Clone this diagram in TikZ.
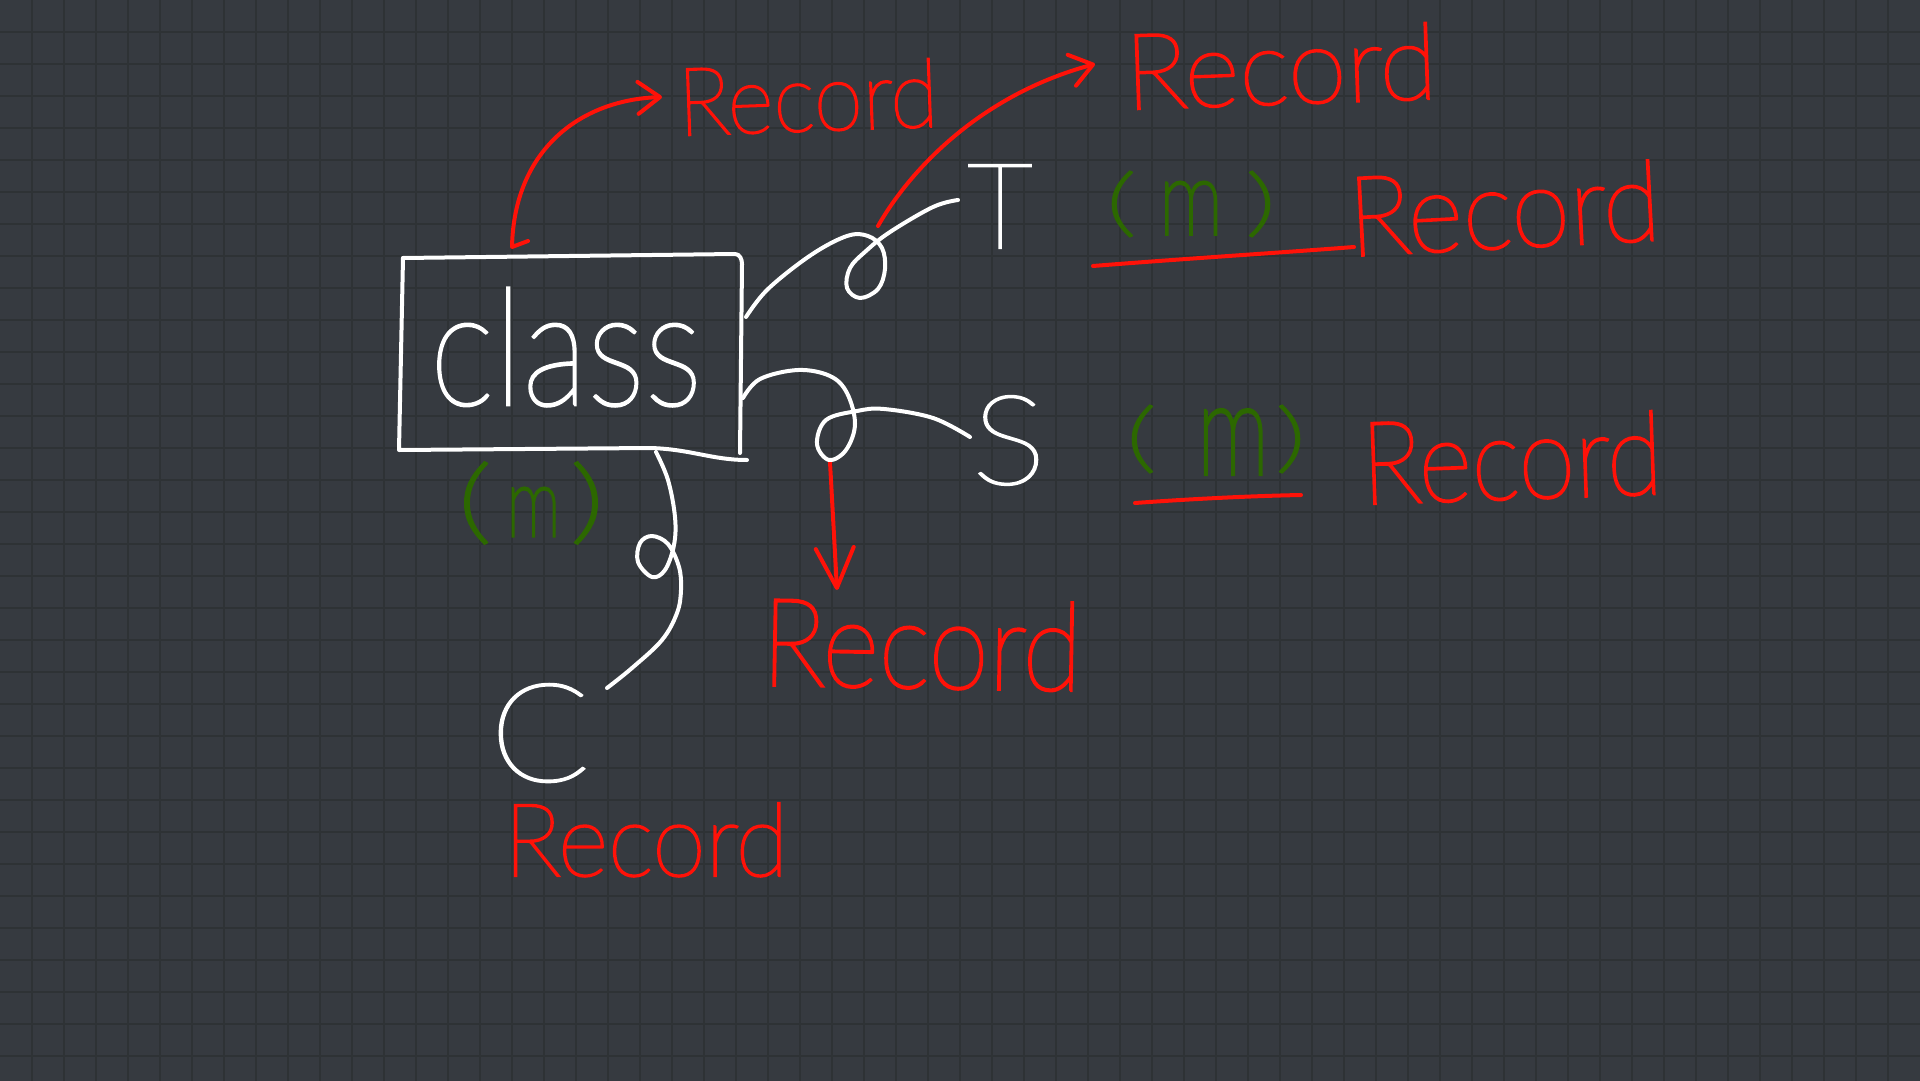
\documentclass[tikz,border=0pt]{standalone}
\usepackage{fontspec}
\usepackage{graphicx}
\usetikzlibrary{arrows.meta}
\newfontfamily\handw{Lato Thin}[FakeBold=1.8]
\newfontfamily\handr{Lato Thin}[FakeBold=2.3]
\newfontfamily\handg{Lato Thin}[FakeBold=3.2]
\definecolor{bgc}{RGB}{54,58,64}
\definecolor{gridc}{RGB}{46,50,53}
\definecolor{inkred}{RGB}{255,18,8}
\definecolor{inkgreen}{RGB}{44,104,0}
% #1 width, #2 height, #3 font, #4 text
\newcommand\hw[4]{\resizebox{#1pt}{#2pt}{#3#4}}
% #1 paren height, #2 paren width, #3 gap, #4 m width, #5 m height, #6 m drop, #7 gap
\newcommand\parenm[7]{\resizebox*{#2pt}{#1pt}{\handg (}\hspace{#3pt}\raisebox{-#6pt}{\resizebox{#4pt}{#5pt}{\handg m}}\hspace{#7pt}\resizebox*{#2pt}{#1pt}{\handg )}}
\tikzset{
  gridline/.style={gridc, line width=1.2pt},
  wink/.style={white, line width=4pt, line cap=round, line join=round},
  rink/.style={inkred, line width=4pt, line cap=round, line join=round},
  txt/.style={inner sep=0pt, outer sep=0pt},
  arr/.style={-{Straight Barb[length=22pt,width=32pt,round]}},
  arrbig/.style={-{Straight Barb[length=40pt,width=38pt,round]}}
}
\begin{document}
\begin{tikzpicture}[x=1pt,y=-1pt]
\useasboundingbox (0,0) rectangle (1920,1081);
\fill[bgc] (0,0) rectangle (1920,1081);
\foreach \i in {32,64,...,1888} \draw[gridline] (\i,0) -- (\i,1081);
\foreach \j in {32,64,...,1056} \draw[gridline] (0,\j) -- (1920,\j);

% class box
\node[txt, minimum width=342pt, minimum height=193pt] (cls) at (571,353) {};
\draw[wink] (403,258) -- (735,254) to[out=0,in=90] (742,264) -- (740,453);
\draw[wink] (403,258) -- (399,450) -- (650,448) .. controls (690,449) and (712,460) .. (747,460);
\node[txt, white, anchor=base] (clstxt) at (566,405) {\hw{272}{117}{\handw}{class}};

% letters
\node[txt, white, anchor=base] (T) at (1000,248) {\hw{65}{83}{\handw}{T}};
\node[txt, white, anchor=base] (S) at (1009,484) {\hw{74}{88}{\handw}{S}};
\node[txt, white, anchor=base] (C) at (540,781) {\hw{100}{97}{\handw}{C}};

% records
\node[txt, inkred, anchor=base, rotate=2] (rec1) at (809,131) {\hw{260}{68}{\handr}{Record}};
\node[txt, inkred, anchor=base, rotate=2] (rec2) at (1282,104) {\hw{312}{76}{\handr}{Record}};
\node[txt, inkred, anchor=base, rotate=-1] (rec3) at (921,688) {\hw{320}{88}{\handr}{Record}};
\node[txt, inkred, anchor=base] (rec4) at (646,876) {\hw{284}{73}{\handr}{Record}};
\node[txt, inkred, anchor=base, rotate=3] (rec5) at (1506,248) {\hw{312}{80}{\handr}{Record}};
\node[txt, inkred, anchor=base, rotate=2] (rec6) at (1513,499) {\hw{301}{83}{\handr}{Record}};

% (m) labels
\node[txt, inkgreen] (mA) at (531,503) {\parenm{80}{34}{15}{54}{48}{4}{10}};
\node[txt, inkgreen] (mB) at (1191,204) {\parenm{64}{30}{23}{64}{52}{7}{23}};
\node[txt, inkgreen] (mC) at (1216,440) {\parenm{66}{30}{41}{72}{64}{11}{7}};

% coordinates
\coordinate (r1a) at (528,241);
\coordinate (r1b) at (662,97);
\coordinate (r2a) at (878,226);
\coordinate (r2b) at (1095,64);
\coordinate (ta) at (746,317);
\coordinate (tb) at (958,200);
\coordinate (sa) at (743,398);
\coordinate (sz) at (970,437);
\coordinate (sb) at (830,462);
\coordinate (sd) at (837,590);
\coordinate (ca) at (656,452);
\coordinate (cz) at (607,688);
\coordinate (u1a) at (1093,266);
\coordinate (u1b) at (1354,247);
\coordinate (u2a) at (1135,503);
\coordinate (u2b) at (1301,495);

% red arrows
\draw[rink, arr] (r1a) -- (512,247) .. controls (514,150) and (580,100) .. (r1b);
\draw[rink, arr] (r2a) .. controls (910,170) and (980,95) .. (r2b);
\draw[rink, arrbig] (sb) -- (sd);

% white connectors
\draw[wink] plot[smooth, tension=0.6] coordinates {(ta) (768,289) (811,255) (847,236) (868,236) (882,248) (885,269) (878,289) (860,298) (847,288) (850,268) (866,251) (890,232) (933,207) (tb)};
\draw[wink] plot[smooth, tension=0.6] coordinates {(sa) (760,379) (798,370) (830,376) (847,393) (855,424) (846,450) (829,460) (817,444) (826,420) (857,411) (884,409) (933,418) (sz)};
\draw[wink] plot[smooth, tension=0.6] coordinates {(ca) (668,480) (675,517) (674,545) (665,570) (652,577) (638,562) (640,543) (652,536) (668,544) (679,567) (681,590) (677,613) (662,640) (632,668) (cz)};

% underlines
\draw[rink] (u1a) .. controls (1180,259) and (1290,252) .. (u1b);
\draw[rink] (u2a) .. controls (1190,499) and (1250,496) .. (u2b);
\end{tikzpicture}
\end{document}
